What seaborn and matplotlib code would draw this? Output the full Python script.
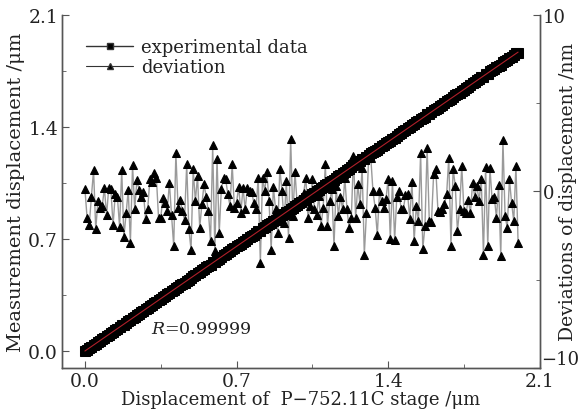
import numpy as np
import pandas as pd
import seaborn as sns
import matplotlib
matplotlib.use("Agg")
import matplotlib.pyplot as plt
from matplotlib.ticker import MultipleLocator
from matplotlib.lines import Line2D

# deviation of each point from the linear fit, nm (read left to right)
deviation = [
    0.15, -1.5, -1.9, -0.3, 1.2, -2.16, -0.55, -0.93, -0.83, 0.2, -1.36, 0.2, 0.11, -1.93, -0.17, -0.3,
    -2.0, 1.2, -2.6, -1.25, 0.06, -2.9, 1.48, -1.0, 0.63, 0.1, -0.3, -0.04, -1.55, -0.98, 0.68, 0.53,
    1.06, 0.78, -1.5, -1.5, -0.36, -0.64, -1.12, 0.49, -1.36, -3.1, 2.2, -0.93, -0.49, -1.12, -1.6, 1.53,
    -2.16, -3.3, 1.25, -0.55, 0.87, -2.06, -0.74, 0.4, -0.3, -1.12, -2.82, 2.61, -3.39, 1.86, -2.35, 0.15,
    0.78,
    0.68, -0.17, -0.83, 1.53, -0.93, -0.64, 0.27, -1.21, 0.2, -1.02, 0.2, 0.0, -0.05, -0.64, -1.02, 0.78,
    -4.05, 0.78, 0.0, 1.1, -0.55, -3.3, 0.27, -0.98, -2.35, 1.29, 0.0, -1.78, 0.59, -2.63, 2.95, -1.4,
    1.1, -0.74,
    -0.45, -0.64, -0.08, 0.78, -1.5, -0.83, 0.68, -1.02, -1.31, -0.27, -1.97, -0.93, 1.53, -1.97, -0.55,
    0.11, -3.1, 0.3, -1.4, -0.3, -1.02, 0.78, -1.02, -2.06, -1.5, 2.0, -1.5, 0.4, -0.74, 1.34, -3.58,
    -1.21, 1.91,
    1.91, 0.0, -0.93, -2.46, 0.0, -0.55, -0.93, -0.45, 0.72, -2.69, 0.59, -2.73, -0.3, 0.0, -1.02, -1.02,
    -0.23, -0.17, -1.55, 0.53, -2.82, -0.83, -1.69, 2.16, -3.26, -1.97, 2.48, -1.69, -1.74, 0.97, 1.29,
    -1.12, -1.17, -1.02, -0.74, -0.17, 1.91,
    -3.1, 1.29, 0.3, -2.25, -0.98, 1.44, -1.12, -1.21, -0.49, -1.21, 0.49, -0.3, 0.3, -0.55, 0.68, -3.58,
    1.4, -3.1, 1.34, -0.45, -0.3, -1.5, 0.34, -3.64, 2.92, -1.4, -2.06, 0.68, -0.64, -1.69, 1.44, -2.92,
]

# stage moved from 0 to 2.0 um in equal steps
stage_start, stage_end = 0.0, 2.0
# linear fit: measured = slope * stage
fit_slope, fit_intercept = 0.934, 0.0

stage = np.linspace(stage_start, stage_end, len(deviation))
dev = np.array(deviation)
fit = fit_slope * stage + fit_intercept
measured = fit + dev / 1000.0

df = pd.DataFrame({"stage": stage, "measured": measured, "fit": fit, "deviation": dev})

sns.set_style("ticks")
plt.rcParams["font.family"] = ["DejaVu Serif"]
plt.rcParams["mathtext.fontset"] = "dejavuserif"
txt = "#222222"
spine = "#555555"

fig = plt.figure(figsize=(5.81, 4.10), dpi=100)
ax = fig.add_axes([0.107, 0.1005, 0.822, 0.8605])
ax2 = ax.twinx()

# deviation on right axis, drawn under the data band
sns.lineplot(data=df, x="stage", y="deviation", ax=ax2, color="#9a9a9a", lw=1.0,
             marker="^", markersize=6, markerfacecolor="black", markeredgecolor="black", legend=False)

sns.lineplot(data=df, x="stage", y="measured", ax=ax, color="black", lw=1.0,
             marker="s", markersize=7.5, markerfacecolor="black", markeredgecolor="black", legend=False)
sns.lineplot(data=df, x="stage", y="fit", ax=ax, color="#b0202a", lw=0.8, legend=False)

ax.set_zorder(ax2.get_zorder() + 1)
ax.patch.set_visible(False)

ax.set_xlim(-0.105, 2.1)
ax.set_ylim(-0.105, 2.1)
ax2.set_ylim(-10, 10)

ax.xaxis.set_major_locator(MultipleLocator(0.7))
ax.xaxis.set_minor_locator(MultipleLocator(0.35))
ax.yaxis.set_major_locator(MultipleLocator(0.7))
ax.yaxis.set_minor_locator(MultipleLocator(0.35))
ax2.yaxis.set_major_locator(MultipleLocator(10))
ax2.yaxis.set_minor_locator(MultipleLocator(5))
ax.xaxis.set_major_formatter(lambda v, p: f"{v:.1f}")
ax.yaxis.set_major_formatter(lambda v, p: f"{v:.1f}")
# bottom label of the right axis is placed by hand a bit higher, clear of "2.1"
ax2.yaxis.set_major_formatter(lambda v, p: "" if v < -5 else f"{v:.0f}")

for a in (ax, ax2):
    a.tick_params(which="both", direction="in", colors=spine, labelcolor=txt, labelsize=13.5, pad=3)
    a.tick_params(which="major", length=5)
    a.tick_params(which="minor", length=3)
    a.spines["top"].set_visible(False)
    for s in ("left", "right", "bottom"):
        a.spines[s].set_color(spine)
        a.spines[s].set_linewidth(1.0)
ax.spines["right"].set_visible(True)
ax2.spines["right"].set_visible(True)
ax2.tick_params(axis="y", labelsize=13, pad=2)
ax2.annotate("\u221210", xy=(1, -10), xycoords=("axes fraction", "data"), xytext=(1, 0),
             textcoords="offset points", ha="left", va="bottom", fontsize=13, color=txt,
             annotation_clip=False)

ax.set_xlabel("Displacement of  P\u2212752.11C stage /\u03bcm", fontsize=13, color=txt, labelpad=0)
ax.set_ylabel("Measurement displacement /\u03bcm", fontsize=14, color=txt, labelpad=2)
ax2.set_ylabel("Deviations of displacement /nm", fontsize=13.5, color=txt)
ax2.yaxis.set_label_coords(1.041, 0.5)

ax.text(0.306, 0.1375, "$R$=0.99999", fontsize=12.5, color=txt, va="center", ha="left")

handles = [
    Line2D([], [], color="#333333", lw=1.0, marker="s", markersize=5, markerfacecolor="black"),
    Line2D([], [], color="#333333", lw=0.8, marker="^", markersize=4, markerfacecolor="black"),
]
leg = ax.legend(handles, ["experimental data", "deviation"], loc="upper left", frameon=False,
                fontsize=13, handlelength=2.6, handletextpad=0.45, labelspacing=0.1,
                borderaxespad=0.0, bbox_to_anchor=(0.035, 0.955))
for t in leg.get_texts():
    t.set_color(txt)

fig.savefig("out.png", dpi=100)
